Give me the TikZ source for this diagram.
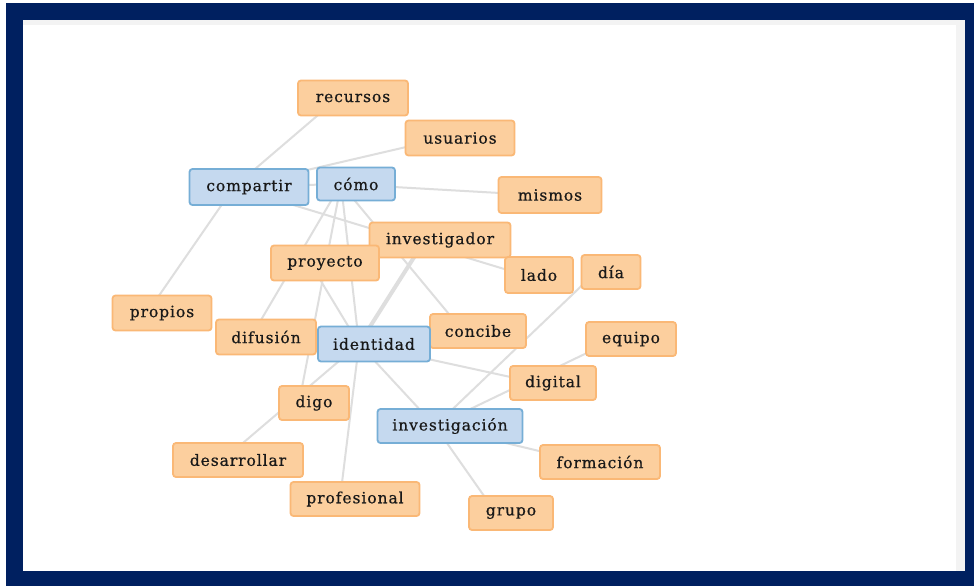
\documentclass[tikz,border=0pt]{standalone}
\usepackage{fontspec}
\newfontfamily\nodefont{DejaVu Serif}[LetterSpace=6,FakeBold=0.6]
\definecolor{navy}{RGB}{0,32,96}
\definecolor{stripgrey}{RGB}{243,243,243}
\definecolor{edgegrey}{RGB}{222,222,222}
\definecolor{orfill}{RGB}{252,207,158}
\definecolor{ordraw}{RGB}{250,184,118}
\definecolor{blfill}{RGB}{197,217,239}
\definecolor{bldraw}{RGB}{118,174,214}
\pgfdeclarelayer{frame}
\pgfdeclarelayer{edges}
\pgfsetlayers{frame,edges,main}
\tikzset{
  word/.style={rectangle, rounded corners=3pt, line width=1.8pt, inner sep=0pt,
    minimum height=35pt, font=\nodefont\fontsize{15.5}{18}\selectfont, text=black!90},
  orword/.style={word, fill=orfill, draw=ordraw},
  blword/.style={word, fill=blfill, draw=bldraw},
  edge/.style={draw=edgegrey, line width=2pt},
  heavyedge/.style={draw=edgegrey, line width=4pt},
}
\newcommand{\lnk}[3][edge]{\draw[#1] ([xshift=-15pt]#2.center) -- ([xshift=-15pt]#3.center);}
\begin{document}
\begin{tikzpicture}[x=1pt,y=-1pt]
\useasboundingbox (0,0) rectangle (974,586);
\begin{pgfonlayer}{frame}
\fill[white] (0,0) rectangle (974,586);
\fill[navy] (6,3) rectangle (974,586);
\fill[white] (23,20) rectangle (965,571);
\fill[stripgrey] (23,20) rectangle (965,25);
\fill[stripgrey] (956,20) rectangle (965,571);
\end{pgfonlayer}
% nodes
\node[orword, minimum width=110pt] (recursos) at (353,98) {recursos};
\node[orword, minimum width=109pt] (usuarios) at (460,138) {usuarios};
\node[blword, minimum width=119pt, minimum height=36pt] (compartir) at (249,187) {compartir};
\node[blword, minimum width=78pt, minimum height=33pt] (como) at (356,184) {cómo};
\node[orword, minimum width=103pt, minimum height=36pt] (mismos) at (550,195) {mismos};
\node[orword, minimum width=141pt] (investigador) at (440,240) {investigador};
\node[orword, minimum width=108pt] (proyecto) at (325,263) {proyecto};
\node[orword, minimum width=68pt, minimum height=36pt] (lado) at (539,275) {lado};
\node[orword, minimum width=59pt, minimum height=34pt] (dia) at (611,272) {día};
\node[orword, minimum width=99pt] (propios) at (162,313) {propios};
\node[orword, minimum width=100pt] (difusion) at (266,337) {difusión};
\node[orword, minimum width=96pt, minimum height=34pt] (concibe) at (478,331) {concibe};
\node[blword, minimum width=112pt] (identidad) at (374,344) {identidad};
\node[orword, minimum width=90pt, minimum height=34pt] (equipo) at (631,339) {equipo};
\node[orword, minimum width=86pt, minimum height=34pt] (digital) at (553,383) {digital};
\node[orword, minimum width=70pt, minimum height=34pt] (digo) at (314,403) {digo};
\node[blword, minimum width=145pt, minimum height=34pt] (investigacion) at (450,426) {investigación};
\node[orword, minimum width=130pt, minimum height=34pt] (desarrollar) at (238,460) {desarrollar};
\node[orword, minimum width=120pt, minimum height=34pt] (formacion) at (600,462) {formación};
\node[orword, minimum width=129pt, minimum height=34pt] (profesional) at (355,499) {profesional};
\node[orword, minimum width=84pt, minimum height=34pt] (grupo) at (511,513) {grupo};
% edges
\begin{pgfonlayer}{edges}
\lnk{recursos}{compartir}
\lnk{usuarios}{compartir}
\lnk{compartir}{como}
\lnk{como}{mismos}
\lnk{compartir}{lado}
\lnk{compartir}{propios}
\lnk{como}{difusion}
\lnk{como}{digo}
\lnk{como}{identidad}
\lnk{como}{concibe}
\lnk{proyecto}{identidad}
\lnk[heavyedge]{investigador}{identidad}
\lnk{identidad}{desarrollar}
\lnk{identidad}{profesional}
\lnk{identidad}{investigacion}
\lnk{identidad}{digital}
\lnk{investigacion}{dia}
\lnk{investigacion}{equipo}
\lnk{investigacion}{formacion}
\lnk{investigacion}{grupo}
\end{pgfonlayer}
\end{tikzpicture}
\end{document}
